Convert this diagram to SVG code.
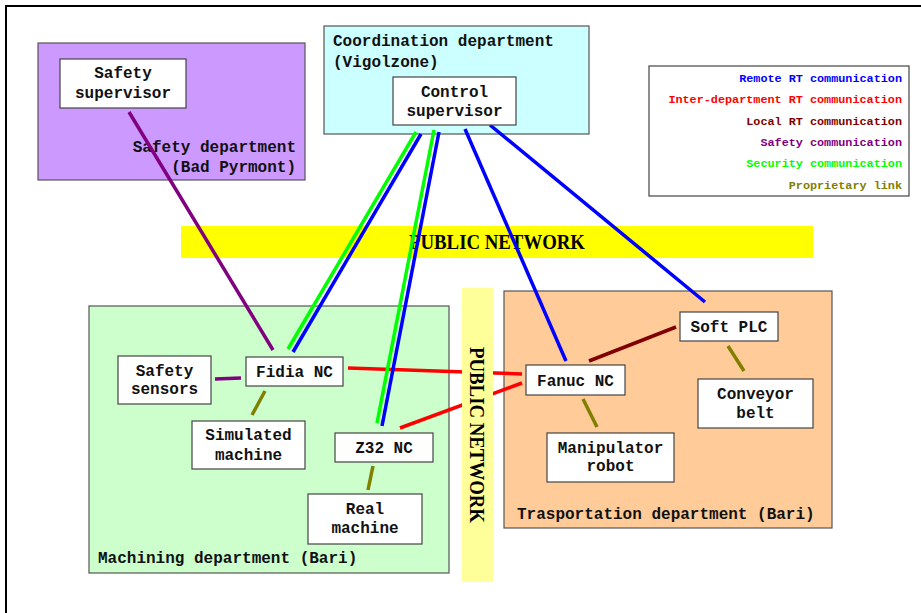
<svg xmlns="http://www.w3.org/2000/svg" width="921" height="613" viewBox="0 0 921 613">
<style>
.dept{stroke:#555;stroke-width:1.2}
.node rect{fill:#fff;stroke:#444;stroke-width:1.2}
.t{font-family:"Liberation Mono","DejaVu Sans Mono",monospace;font-size:16px;font-weight:bold;fill:#111}
.c{text-anchor:middle}
.lg{font-family:"Liberation Mono","DejaVu Sans Mono",monospace;font-size:11.8px;font-weight:bold;text-anchor:end}
.pn{font-family:"Liberation Serif","Times New Roman",serif;font-size:20px;font-weight:bold;fill:#000;text-anchor:middle}
#connectors line{stroke-width:3.5;stroke-linecap:butt}
.blue{stroke:#0000ff}.green{stroke:#00ff00}.red{stroke:#ff0000}.dred{stroke:#800000}.purple{stroke:#800080}.olive{stroke:#808000}
</style>
<rect width="921" height="613" fill="#fff"/>
<path d="M6 613 V6 H921" fill="none" stroke="#000" stroke-width="2"/>

<g id="safety-dept">
<rect class="dept" x="38" y="43" width="267" height="137" fill="#cc99ff"/>
<text class="t" x="296" y="152" text-anchor="end">Safety department</text>
<text class="t" x="296" y="172" text-anchor="end">(Bad Pyrmont)</text>
</g>
<g id="coord-dept">
<rect class="dept" x="324" y="26" width="265" height="108" fill="#ccffff"/>
<text class="t" x="333" y="46">Coordination department</text>
<text class="t" x="333" y="67">(Vigolzone)</text>
</g>
<g id="machining-dept">
<rect class="dept" x="89" y="306" width="360" height="267" fill="#ccffcc"/>
<text class="t" x="98" y="563">Machining department (Bari)</text>
</g>
<g id="transport-dept">
<rect class="dept" x="504" y="291" width="328" height="237" fill="#ffcc99"/>
<text class="t" x="517" y="519">Trasportation department (Bari)</text>
</g>

<g id="legend">
<rect x="649" y="66" width="260" height="130" fill="#fff" stroke="#444" stroke-width="1.2"/>
<text class="lg" x="902" y="82" fill="#0000ff">Remote RT communication</text>
<text class="lg" x="902" y="103" fill="#ff0000">Inter-department RT communication</text>
<text class="lg" x="902" y="125" fill="#800000">Local RT communication</text>
<text class="lg" x="902" y="146" fill="#800080">Safety communication</text>
<text class="lg" x="902" y="167" fill="#00ff00">Security communication</text>
<text class="lg" x="902" y="189" fill="#808000">Proprietary link</text>
</g>

<g id="public-network-h">
<rect x="181" y="226" width="632" height="32" fill="#ffff00"/>
<text class="pn" x="497" y="249" textLength="176" lengthAdjust="spacingAndGlyphs">PUBLIC NETWORK</text>
</g>

<g id="connectors">
<line class="purple" x1="129" y1="112" x2="273" y2="350"/>
<line class="purple" x1="215" y1="379" x2="241" y2="378"/>
<line class="olive" x1="265" y1="391" x2="252" y2="415"/>
<line class="olive" x1="373" y1="466" x2="368" y2="490"/>
<line class="red" x1="348" y1="368" x2="522" y2="374"/>
<line class="red" x1="400" y1="428" x2="522" y2="383"/>
<line class="dred" x1="589" y1="361" x2="676" y2="327"/>
<line class="olive" x1="728" y1="346" x2="744" y2="371"/>
<line class="olive" x1="583" y1="399" x2="597" y2="427"/>
<line class="green" x1="416" y1="132" x2="288" y2="349"/>
<line class="blue" x1="421" y1="134" x2="293" y2="352"/>
<line class="green" x1="434" y1="130" x2="377" y2="423"/>
<line class="blue" x1="439" y1="132" x2="382" y2="426"/>
<line class="blue" x1="465" y1="129" x2="566" y2="361"/>
<line class="blue" x1="490" y1="125" x2="705" y2="302"/>
</g>

<g id="public-network-v">
<rect x="462" y="288" width="31" height="294" fill="#ffff99"/>
<text class="pn" transform="translate(470,435) rotate(90)" x="0" y="0" textLength="176" lengthAdjust="spacingAndGlyphs">PUBLIC NETWORK</text>
</g>

<g id="safety-supervisor" class="node">
<rect x="60" y="59" width="126" height="49"/>
<text class="t c" x="123" y="78">Safety</text>
<text class="t c" x="123" y="98">supervisor</text>
</g>
<g id="control-supervisor" class="node">
<rect x="393" y="77" width="123" height="48"/>
<text class="t c" x="454.5" y="97">Control</text>
<text class="t c" x="454.5" y="116">supervisor</text>
</g>
<g id="safety-sensors" class="node">
<rect x="118" y="356" width="93" height="48"/>
<text class="t c" x="164.5" y="376">Safety</text>
<text class="t c" x="164.5" y="394">sensors</text>
</g>
<g id="fidia-nc" class="node">
<rect x="246" y="357" width="97" height="29"/>
<text class="t c" x="294.5" y="377">Fidia NC</text>
</g>
<g id="simulated-machine" class="node">
<rect x="192" y="421" width="113" height="48"/>
<text class="t c" x="248.5" y="440">Simulated</text>
<text class="t c" x="248.5" y="460">machine</text>
</g>
<g id="z32-nc" class="node">
<rect x="335" y="433" width="98" height="29"/>
<text class="t c" x="384" y="453">Z32 NC</text>
</g>
<g id="real-machine" class="node">
<rect x="308" y="494" width="114" height="50"/>
<text class="t c" x="365" y="514">Real</text>
<text class="t c" x="365" y="533">machine</text>
</g>
<g id="soft-plc" class="node">
<rect x="680" y="312" width="98" height="29"/>
<text class="t c" x="729" y="332">Soft PLC</text>
</g>
<g id="fanuc-nc" class="node">
<rect x="526" y="365" width="99" height="30"/>
<text class="t c" x="575.5" y="386">Fanuc NC</text>
</g>
<g id="conveyor-belt" class="node">
<rect x="698" y="379" width="115" height="49"/>
<text class="t c" x="755.5" y="399">Conveyor</text>
<text class="t c" x="755.5" y="418">belt</text>
</g>
<g id="manipulator-robot" class="node">
<rect x="547" y="433" width="127" height="49"/>
<text class="t c" x="610.5" y="453">Manipulator</text>
<text class="t c" x="610.5" y="471">robot</text>
</g>
</svg>
